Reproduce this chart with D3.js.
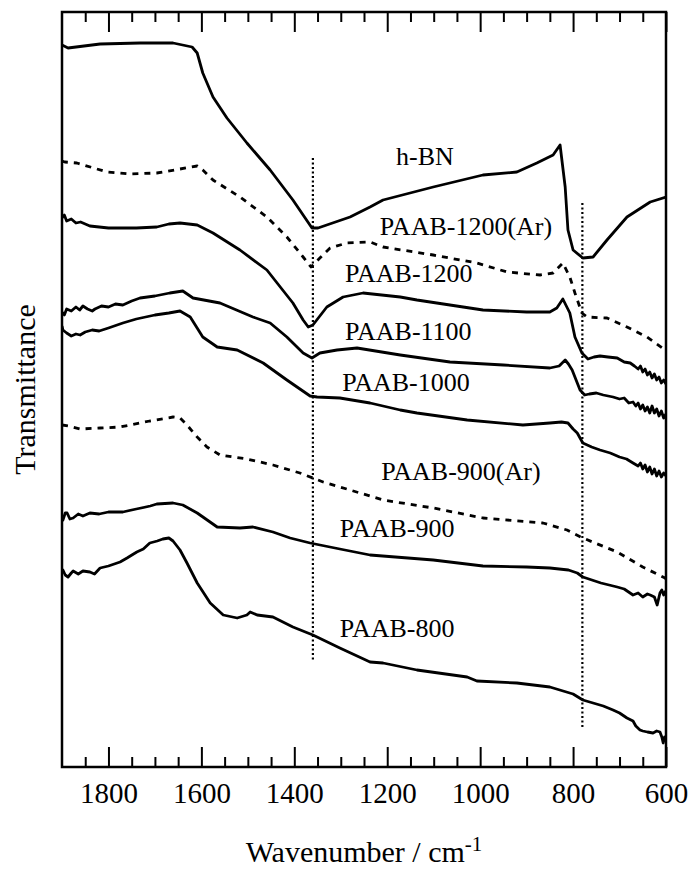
<!DOCTYPE html>
<html>
<head>
<meta charset="utf-8">
<script src="https://cdn.jsdelivr.net/npm/d3@7"></script>
<style>
  html, body { margin: 0; padding: 0; background: #fff; }
  svg { display: block; }
  text { font-family: "Liberation Serif", "Times New Roman", serif; fill: #000; }
</style>
</head>
<body>
<svg id="chart" width="696" height="872"></svg>
<script>
// ---- Data (wavenumber / cm^-1, transmittance in arbitrary offset units) ----
const hBN = [[1900,722],[1887,719],[1818,723],[1732,724],[1661,724],[1620,720],[1609,714],[1597,694],[1575,670],[1545,649],[1502,624],[1452,597],[1403,567],[1362,539],[1349,539],[1280,550],[1237,560],[1209,567],[1101,580],[994,592],[921,595],[878,604],[843,612],[828,622],[817,580],[811,537],[800,517],[779,509],[757,510],[727,527],[684,550],[634,565],[600,570]];

const paab1200Ar = [[1900,606],[1894,605],[1868,604],[1803,595],[1754,593],[1696,594],[1646,598],[1609,601],[1597,597],[1575,587],[1517,570],[1459,550],[1416,530],[1381,510],[1364,500],[1345,509],[1323,519],[1287,524],[1237,525],[1209,520],[1101,512],[1007,504],[942,495],[871,492],[843,494],[822,504],[807,490],[796,474],[781,454],[770,450],[727,449],[684,440],[641,430],[602,417],[600,416]];

const paab1200 = [[1900,549],[1895,552],[1890,546],[1880,548],[1870,544],[1860,545],[1840,541],[1820,540],[1800,539],[1769,539],[1740,539],[1696,540],[1670,543],[1646,544],[1609,542],[1575,534],[1517,517],[1459,497],[1437,484],[1403,464],[1381,447],[1370,440],[1360,442],[1330,460],[1295,470],[1252,474],[1172,470],[1136,467],[994,457],[900,455],[850,455],[835,459],[822,468],[807,454],[796,430],[781,414],[768,408],[755,410],[742,411],[725,410],[705,409],[690,405],[677,404],[668,401],[660,398],[655,401],[650,395],[645,398],[640,392],[635,395],[630,389],[625,393],[620,387],[615,390],[610,384],[605,387],[600,383]];

const paab1100 = [[1900,455],[1895,452],[1890,458],[1880,456],[1870,460],[1862,457],[1855,461],[1845,458],[1835,456],[1829,458],[1815,461],[1800,460],[1785,463],[1769,462],[1750,466],[1732,469],[1700,471],[1668,474],[1640,476],[1618,469],[1560,464],[1489,450],[1452,444],[1416,430],[1381,414],[1362,409],[1345,414],[1308,417],[1265,419],[1172,412],[1065,405],[950,402],[850,399],[830,401],[817,407],[810,403],[802,397],[785,377],[775,372],[765,373],[750,374],[735,372],[714,370],[700,368],[690,369],[680,364],[671,365],[665,361],[660,364],[655,358],[650,362],[645,356],[640,360],[635,354],[630,361],[625,354],[620,358],[615,351],[610,356],[605,349],[600,353]];

const paab1000 = [[1900,441],[1898,437],[1890,434],[1880,431],[1870,433],[1861,432],[1850,435],[1835,437],[1820,436],[1800,439],[1769,444],[1740,448],[1700,452],[1670,454],[1646,456],[1624,450],[1597,430],[1566,420],[1523,417],[1467,404],[1416,387],[1366,371],[1351,370],[1302,369],[1237,364],[1172,357],[1136,354],[1028,347],[908,342],[850,344],[825,345],[811,344],[800,338],[791,334],[779,324],[760,320],[742,317],[720,314],[700,310],[685,308],[671,304],[660,301],[655,304],[650,298],[645,302],[640,295],[635,300],[630,293],[625,298],[620,291],[615,296],[610,290],[605,294],[600,291]];

const paab900Ar = [[1900,342],[1887,341],[1861,338],[1818,339],[1775,340],[1711,346],[1661,350],[1646,349],[1631,342],[1609,330],[1588,320],[1560,312],[1502,308],[1446,302],[1388,294],[1338,285],[1280,277],[1209,267],[1101,259],[994,249],[865,244],[813,237],[779,229],[705,215],[650,200],[602,189],[600,188]];

const paab900 = [[1900,252],[1898,247],[1893,254],[1889,254],[1883,248],[1876,249],[1865,253],[1855,251],[1840,254],[1820,253],[1800,255],[1769,255],[1740,258],[1710,261],[1696,263],[1661,264],[1640,262],[1609,254],[1566,240],[1517,239],[1489,240],[1446,235],[1409,229],[1366,224],[1302,218],[1237,212],[1101,207],[994,201],[900,200],[850,199],[810,197],[791,194],[779,190],[740,184],[705,180],[690,178],[671,172],[660,174],[650,170],[640,173],[634,172],[625,170],[619,162],[613,174],[609,177],[605,172],[602,175],[600,176]];

const paab800 = [[1900,195],[1898,197],[1893,192],[1887,190],[1880,194],[1876,196],[1865,193],[1855,196],[1840,195],[1830,193],[1818,199],[1800,201],[1775,205],[1760,209],[1739,215],[1725,218],[1711,224],[1695,226],[1683,228],[1670,229],[1661,226],[1646,217],[1631,204],[1609,184],[1581,164],[1553,152],[1523,149],[1502,152],[1495,155],[1480,152],[1446,150],[1403,140],[1360,132],[1302,119],[1237,105],[1209,104],[1136,97],[1028,90],[1007,86],[921,84],[850,80],[800,73],[779,67],[757,64],[735,61],[714,57],[700,54],[684,49],[671,46],[665,41],[656,37],[650,36],[640,35],[628,34],[620,36],[613,35],[609,30],[606,24],[603,30],[600,27]];

const seriesNames = ["h-BN","PAAB-1200(Ar)","PAAB-1200","PAAB-1100","PAAB-1000","PAAB-900(Ar)","PAAB-900","PAAB-800"];
const seriesData = [hBN, paab1200Ar, paab1200, paab1100, paab1000, paab900Ar, paab900, paab800];
const seriesDashed = [false, true, false, false, false, true, false, false];

// label anchors in data units: [wavenumber, value]
const labelAnchors = [[1181,602],[1216,532],[1291,485],[1291,427],[1297,376],[1213,287],[1302,230],[1302,130]];

// dotted reference lines: wavenumber, from value, to value
const refLines = [[1360,609,107],[780,564,39]];

const xMajorTicks = [1800,1600,1400,1200,1000,800,600];
const xMinorTicks = d3.range(1850, 599, -50).filter(v => v % 200 !== 0);

// ---- Layout ----
const L = 62, R = 666, T = 12, B = 767;
const svg = d3.select("#chart");
const x = d3.scaleLinear().domain([1900, 600]).range([L, R]);
const y = d3.scaleLinear().domain([0, 755]).range([B, T]);

svg.append("clipPath").attr("id","clip").append("rect")
  .attr("x", L).attr("y", T).attr("width", R - L).attr("height", B - T);

const line = d3.line().x(d => x(d[0])).y(d => y(d[1])).curve(d3.curveLinear);

const g = svg.append("g").attr("clip-path","url(#clip)");

// reference dotted lines
g.selectAll("line.ref").data(refLines).join("line")
  .attr("x1", d => x(d[0])).attr("x2", d => x(d[0]))
  .attr("y1", d => y(d[1])).attr("y2", d => y(d[2]))
  .attr("stroke","#000").attr("stroke-width",2.2).attr("stroke-dasharray","2,2.5");

// spectra
seriesData.forEach((data, i) => {
  g.append("path").datum(data)
    .attr("d", line)
    .attr("fill","none")
    .attr("stroke","#000")
    .attr("stroke-width", 2.8)
    .attr("stroke-linejoin","round")
    .attr("stroke-dasharray", seriesDashed[i] ? "6,6" : null);
});

// labels
svg.selectAll("text.lbl").data(seriesNames).join("text")
  .attr("class","lbl")
  .attr("x", (d,i) => x(labelAnchors[i][0]))
  .attr("y", (d,i) => y(labelAnchors[i][1]))
  .attr("font-size", 26)
  .text(d => d);

// axes: bottom (ticks inward) and top (ticks inward)
const bottomMajor = d3.axisBottom(x).tickValues(xMajorTicks).tickSize(-20).tickPadding(15).tickFormat(d3.format("d"));
const bottomMinor = d3.axisBottom(x).tickValues(xMinorTicks).tickSize(-10).tickFormat("");
const topMajor = d3.axisTop(x).tickValues(xMajorTicks).tickSize(-20).tickFormat("");
const topMinor = d3.axisTop(x).tickValues(xMinorTicks).tickSize(-10).tickFormat("");

function styleAxis(sel) {
  sel.select(".domain").remove();
  sel.selectAll(".tick line").attr("stroke","#000").attr("stroke-width",2);
  sel.selectAll(".tick text").attr("font-size",29).attr("font-family",'"Liberation Serif","Times New Roman",serif').attr("fill","#000");
}
svg.append("g").attr("transform",`translate(0,${B})`).call(bottomMajor).call(styleAxis);
svg.append("g").attr("transform",`translate(0,${B})`).call(bottomMinor).call(styleAxis);
svg.append("g").attr("transform",`translate(0,${T})`).call(topMajor).call(styleAxis);
svg.append("g").attr("transform",`translate(0,${T})`).call(topMinor).call(styleAxis);

// frame
svg.append("rect").attr("x",L).attr("y",T).attr("width",R-L).attr("height",B-T)
  .attr("fill","none").attr("stroke","#000").attr("stroke-width",2.5);

// axis titles
const xt = svg.append("text").attr("x",(L+R)/2).attr("y",862)
  .attr("text-anchor","middle").attr("font-size",30);
xt.append("tspan").text("Wavenumber / cm");
xt.append("tspan").attr("font-size",21).attr("dy",-11).text("-1");

svg.append("text")
  .attr("transform",`translate(35,${(T+B)/2}) rotate(-90)`)
  .attr("text-anchor","middle").attr("font-size",30)
  .text("Transmittance");
</script>
</body>
</html>
